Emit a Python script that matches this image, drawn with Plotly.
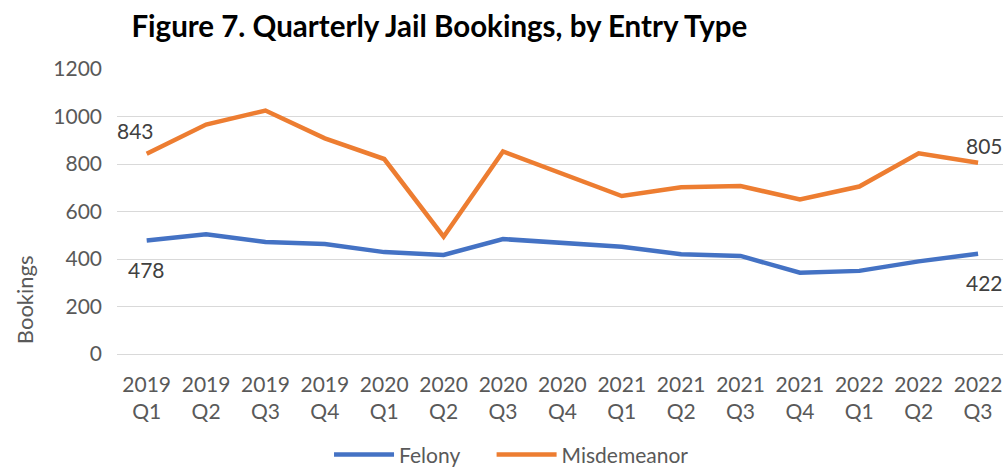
import plotly.graph_objects as go

# Quarterly jail bookings by entry type
quarters = ["2019<br>Q1", "2019<br>Q2", "2019<br>Q3", "2019<br>Q4",
            "2020<br>Q1", "2020<br>Q2", "2020<br>Q3", "2020<br>Q4",
            "2021<br>Q1", "2021<br>Q2", "2021<br>Q3", "2021<br>Q4",
            "2022<br>Q1", "2022<br>Q2", "2022<br>Q3"]
felony = [478, 504, 472, 463, 429, 417, 484, 467, 452, 420, 413, 342, 350, 390, 422]
misdemeanor = [843, 966, 1025, 908, 821, 494, 853, 758, 665, 702, 707, 651, 705, 845, 805]
y_ticks = [0, 200, 400, 600, 800, 1000, 1200]

FONT = "Lato"
GREY = "#595959"
BLUE = "#4472C4"
ORANGE = "#ED7D31"
PAD = "\u00a0" * 5  # extra room between legend entries

x_idx = list(range(len(quarters)))

fig = go.Figure()
fig.add_trace(go.Scatter(x=x_idx, y=felony, name="Felony" + PAD, mode="lines",
                         line=dict(color=BLUE, width=4.5)))
fig.add_trace(go.Scatter(x=x_idx, y=misdemeanor, name="Misdemeanor", mode="lines",
                         line=dict(color=ORANGE, width=4.5)))

# endpoint value labels
labels = [
    (0, misdemeanor[0], -11, 23),
    (0, felony[0], 0, -29),
    (len(quarters) - 1, misdemeanor[-1], 6, 17),
    (len(quarters) - 1, felony[-1], 6, -29),
]
for xi, val, dx, dy in labels:
    fig.add_annotation(x=xi, y=val, text=str(val), showarrow=False,
                       xshift=dx, yshift=dy,
                       font=dict(family=FONT, size=21, color="#404040"))

# vertical axis title
fig.add_annotation(xref="paper", yref="paper", x=0, y=0.189,
                   xanchor="center", yanchor="middle",
                   xshift=-93, text="Bookings", textangle=-90, showarrow=False,
                   font=dict(family=FONT, size=22, color=GREY))

fig.update_layout(
    width=1003, height=468,
    margin=dict(l=117, r=0, t=69, b=114),
    paper_bgcolor="white", plot_bgcolor="white",
    title=dict(text="<b>Figure 7. Quarterly Jail Bookings, by Entry Type</b>",
               x=0.131, xanchor="left", y=0.942, yanchor="middle",
               font=dict(family=FONT, size=29.5, color="black")),
    font=dict(family=FONT, color=GREY),
    showlegend=True,
    legend=dict(orientation="h", xref="container", x=0.51, xanchor="center",
                yref="container", y=0.028, yanchor="middle",
                font=dict(family=FONT, size=21, color=GREY),
                itemwidth=60),
    xaxis=dict(tickmode="array", tickvals=x_idx, ticktext=quarters,
               range=[-0.5, 14.42], showgrid=False, zeroline=False,
               showline=False, ticks="", ticklabelstandoff=16,
               tickfont=dict(family=FONT, size=21, color=GREY)),
    yaxis=dict(range=[0, 1200], tickvals=y_ticks, showgrid=True,
               gridcolor="#D9D9D9", gridwidth=1, zeroline=True,
               zerolinecolor="#D9D9D9", zerolinewidth=1, ticks="",
               ticklabelstandoff=14,
               tickfont=dict(family=FONT, size=21, color=GREY)),
)

fig.write_html("out.html")
